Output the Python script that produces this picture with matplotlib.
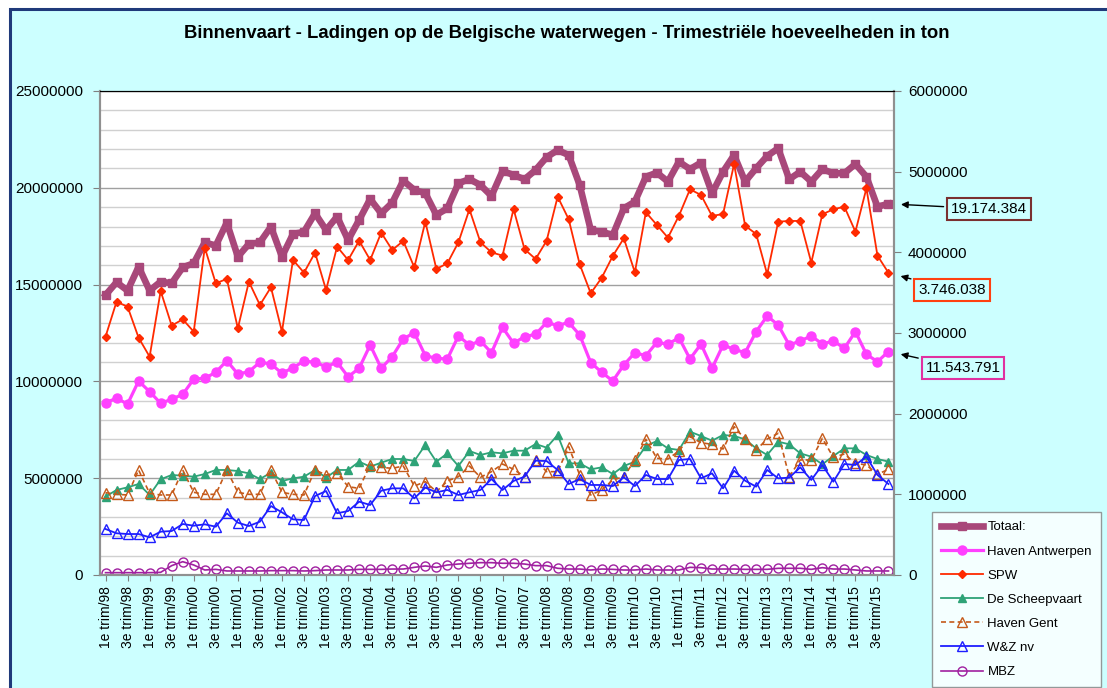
import numpy as np
import matplotlib.pyplot as plt
from matplotlib.patches import Rectangle

# quarters 1998 Q1 .. 2015 Q4
years = list(range(1998, 2016))
quarters = [f"{q}e trim/{y % 100:02d}" for y in years for q in (1, 2, 3, 4)]

# left axis (ton, millions)
totaal = [14.46, 15.12, 14.69, 15.92, 14.69, 15.15, 15.07, 15.89, 16.10, 17.18,
          17.01, 18.20, 16.44, 17.10, 17.18, 17.99, 16.44, 17.61, 17.73, 18.68,
          17.82, 18.51, 17.30, 18.34, 19.42, 18.68, 19.23, 20.37, 19.89, 19.72,
          18.60, 18.94, 20.23, 20.45, 20.14, 19.58, 20.87, 20.66, 20.44, 20.92,
          21.58, 21.95, 21.69, 20.14, 17.82, 17.73, 17.56, 18.94, 19.28, 20.57,
          20.78, 20.32, 21.35, 20.96, 21.30, 19.72, 20.83, 21.69, 20.32, 21.01,
          21.64, 22.04, 20.44, 20.83, 20.32, 20.96, 20.75, 20.75, 21.23, 20.57,
          19.02, 19.174384]
antwerpen = [8.90, 9.13, 8.83, 10.02, 9.47, 8.87, 9.08, 9.33, 10.12, 10.16,
             10.47, 11.07, 10.38, 10.50, 10.99, 10.90, 10.42, 10.71, 11.05, 10.99,
             10.76, 10.99, 10.24, 10.68, 11.88, 10.68, 11.28, 12.19, 12.52, 11.33,
             11.19, 11.16, 12.35, 11.88, 12.09, 11.48, 12.79, 11.97, 12.31, 12.43,
             13.05, 12.88, 13.05, 12.40, 10.97, 10.47, 10.02, 10.85, 11.48, 11.33,
             12.02, 11.92, 12.26, 11.16, 11.93, 10.68, 11.88, 11.66, 11.48, 12.57,
             13.38, 12.91, 11.88, 12.09, 12.35, 11.93, 12.09, 11.71, 12.57, 11.40,
             11.02, 11.543791]

# right axis (ton, millions)
spw = [2.954, 3.388, 3.326, 2.942, 2.706, 3.521, 3.091, 3.170, 3.016, 4.058,
       3.616, 3.670, 3.058, 3.636, 3.347, 3.567, 3.016, 3.905, 3.748, 3.996,
       3.533, 4.070, 3.905, 4.144, 3.905, 4.244, 4.029, 4.141, 3.814, 4.380,
       3.794, 3.864, 4.124, 4.533, 4.124, 4.000, 3.959, 4.537, 4.038, 3.917,
       4.144, 4.690, 4.410, 3.851, 3.492, 3.686, 3.955, 4.174, 3.752, 4.496,
       4.339, 4.182, 4.454, 4.781, 4.711, 4.451, 4.475, 5.095, 4.330, 4.227,
       3.728, 4.380, 4.389, 4.389, 3.872, 4.472, 4.533, 4.566, 4.256, 4.794,
       3.959, 3.746038]
scheepvaart = [0.971, 1.054, 1.087, 1.128, 0.992, 1.186, 1.240, 1.231, 1.219, 1.252,
               1.302, 1.302, 1.289, 1.260, 1.190, 1.268, 1.165, 1.198, 1.219, 1.302,
               1.207, 1.302, 1.302, 1.405, 1.343, 1.393, 1.438, 1.438, 1.413, 1.612,
               1.405, 1.508, 1.351, 1.537, 1.488, 1.521, 1.508, 1.541, 1.541, 1.624,
               1.579, 1.736, 1.384, 1.384, 1.310, 1.335, 1.252, 1.351, 1.405, 1.599,
               1.661, 1.570, 1.550, 1.777, 1.723, 1.665, 1.736, 1.723, 1.682, 1.570,
               1.488, 1.653, 1.620, 1.508, 1.467, 1.372, 1.475, 1.570, 1.570, 1.488,
               1.438, 1.405]
gent = [1.021, 1.000, 0.992, 1.302, 1.012, 0.992, 0.992, 1.302, 1.025, 1.000,
        1.000, 1.302, 1.025, 1.000, 1.000, 1.302, 1.025, 1.000, 0.992, 1.302,
        1.240, 1.268, 1.095, 1.074, 1.364, 1.335, 1.322, 1.351, 1.103, 1.157,
        1.033, 1.165, 1.219, 1.351, 1.211, 1.281, 1.376, 1.310, 1.219, 1.426,
        1.281, 1.281, 1.591, 1.240, 0.992, 1.054, 1.178, 1.219, 1.426, 1.682,
        1.446, 1.438, 1.537, 1.715, 1.640, 1.620, 1.562, 1.839, 1.682, 1.550,
        1.686, 1.756, 1.219, 1.426, 1.426, 1.694, 1.459, 1.500, 1.384, 1.364,
        1.248, 1.310]
wz = [0.570, 0.517, 0.508, 0.508, 0.467, 0.537, 0.545, 0.632, 0.611, 0.628,
      0.599, 0.765, 0.649, 0.607, 0.661, 0.855, 0.777, 0.690, 0.682, 0.979,
      1.041, 0.765, 0.793, 0.909, 0.868, 1.045, 1.074, 1.074, 0.950, 1.083,
      1.025, 1.054, 0.992, 1.025, 1.054, 1.190, 1.054, 1.165, 1.219, 1.417,
      1.413, 1.302, 1.128, 1.190, 1.116, 1.116, 1.103, 1.211, 1.103, 1.240,
      1.190, 1.190, 1.426, 1.438, 1.198, 1.260, 1.074, 1.293, 1.169, 1.095,
      1.302, 1.198, 1.207, 1.335, 1.178, 1.364, 1.157, 1.376, 1.364, 1.467,
      1.240, 1.128]
mbz = [0.029, 0.029, 0.029, 0.029, 0.029, 0.033, 0.116, 0.165, 0.124, 0.062,
       0.070, 0.050, 0.050, 0.050, 0.050, 0.054, 0.054, 0.054, 0.050, 0.054,
       0.062, 0.062, 0.062, 0.070, 0.070, 0.070, 0.074, 0.074, 0.095, 0.112,
       0.095, 0.124, 0.136, 0.145, 0.153, 0.153, 0.145, 0.145, 0.136, 0.116,
       0.116, 0.083, 0.074, 0.074, 0.062, 0.074, 0.070, 0.062, 0.062, 0.074,
       0.062, 0.062, 0.062, 0.095, 0.091, 0.074, 0.074, 0.074, 0.070, 0.070,
       0.070, 0.083, 0.083, 0.083, 0.070, 0.091, 0.074, 0.074, 0.062, 0.050,
       0.050, 0.050]

M = 1e6
W, H = 1107, 688
plt.rcParams['font.family'] = ['Liberation Sans', 'DejaVu Sans']

fig = plt.figure(figsize=(W / 100, H / 100), dpi=100)
fig.patch.set_facecolor('white')
fig.patches.append(Rectangle((9.5 / W, -0.1), 1.2, 1.1 - 9.5 / H,
                             transform=fig.transFigure, facecolor='#CCFFFF',
                             edgecolor='#1F3A7A', lw=2.2, zorder=-10))

ax1 = fig.add_axes([100 / W, (H - 575) / H, 794 / W, 484 / H])
ax2 = ax1.twinx()
x = np.arange(len(quarters))

l_tot, = ax1.plot(x, np.array(totaal) * M, color='#A8487A', lw=4.8,
                  marker='s', ms=5.5, label='Totaal:')
l_ant, = ax1.plot(x, np.array(antwerpen) * M, color='#FF40FF', lw=2.3,
                  marker='o', ms=6.5, label='Haven Antwerpen')
l_spw, = ax2.plot(x, np.array(spw) * M, color='#FF2A00', lw=1.3,
                  marker='D', ms=4.5, label='SPW')
l_sch, = ax2.plot(x, np.array(scheepvaart) * M, color='#2EA377', lw=1.3,
                  marker='^', ms=6, label='De Scheepvaart')
l_gen, = ax2.plot(x, np.array(gent) * M, color='#C55A1A', lw=1.2, ls=(0, (3, 2)),
                  marker='^', ms=7, mfc='none', mew=1, label='Haven Gent')
l_wz, = ax2.plot(x, np.array(wz) * M, color='#1E1EFF', lw=1.3,
                 marker='^', ms=7, mfc='none', mew=1, label='W&Z nv')
l_mbz, = ax2.plot(x, np.array(mbz) * M, color='#A020A0', lw=1.2,
                  marker='o', ms=6.5, mfc='none', mew=1, label='MBZ')

ax1.set_xlim(-0.5, len(quarters) - 0.5)
ax1.set_ylim(0, 25 * M)
ax2.set_ylim(0, 6 * M)
ax1.set_yticks(np.arange(0, 25.1, 5) * M)
ax1.set_yticks(np.arange(0, 25.1, 1) * M, minor=True)
ax2.set_yticks(np.arange(0, 6.1, 1) * M)
ax1.yaxis.set_major_formatter(lambda v, p: f"{int(v)}")
ax2.yaxis.set_major_formatter(lambda v, p: f"{int(v)}")
ax1.grid(axis='y', which='minor', color='#D0D0D0', lw=1)
ax1.grid(axis='y', which='major', color='#A0A0A0', lw=1)
ax1.set_axisbelow(True)
ax1.tick_params(axis='y', which='minor', length=0)
ax1.tick_params(axis='y', which='major', labelsize=11, length=5, pad=7, color='#808080')
ax2.tick_params(axis='y', labelsize=11, length=5, pad=5, color='#808080')

ax1.set_xticks(x[::2])
ax1.set_xticklabels(quarters[::2], rotation=90, fontsize=10)
ax1.tick_params(axis='x', length=4, pad=4, color='#808080')

for ax in (ax1, ax2):
    for s in ('left', 'right', 'bottom'):
        ax.spines[s].set_color('#909090')
        ax.spines[s].set_linewidth(1.5)
    ax.spines['top'].set_color('black')
ax2.patch.set_visible(False)

fig.text(567 / W, 1 - 34 / H,
         'Binnenvaart - Ladingen op de Belgische waterwegen - Trimestriële hoeveelheden in ton',
         ha='center', va='center', fontsize=13.3, fontweight='bold')

arrow = dict(arrowstyle='-|>', color='black', lw=1, mutation_scale=10, shrinkB=9)
ax1.annotate('19.174.384', xy=(x[-1], totaal[-1] * M), xytext=(989, H - 209),
             textcoords='figure pixels', ha='center', va='center', fontsize=11,
             bbox=dict(boxstyle='square,pad=0.25', fc='#CCFFFF', ec='#7A3030', lw=1.5),
             arrowprops=arrow, annotation_clip=False)
ax2.annotate('3.746.038', xy=(x[-1], spw[-1] * M), xytext=(952, H - 290),
             textcoords='figure pixels', ha='center', va='center', fontsize=11,
             bbox=dict(boxstyle='square,pad=0.25', fc='#CCFFFF', ec='#FF4010', lw=1.5),
             arrowprops=arrow, annotation_clip=False)
ax1.annotate('11.543.791', xy=(x[-1], antwerpen[-1] * M), xytext=(963, H - 368),
             textcoords='figure pixels', ha='center', va='center', fontsize=11,
             bbox=dict(boxstyle='square,pad=0.25', fc='#CCFFFF', ec='#E030A0', lw=1.5),
             arrowprops=arrow, annotation_clip=False)

leg = fig.legend(handles=[l_tot, l_ant, l_spw, l_sch, l_gen, l_wz, l_mbz],
                 loc='upper left', bbox_to_anchor=(932 / W, 1 - 512 / H),
                 fontsize=9.5, frameon=True, fancybox=False, handlelength=3.2,
                 labelspacing=0.9, borderpad=0.7, handletextpad=0.3,
                 borderaxespad=0)
leg.get_frame().set_edgecolor('#808080')
leg.get_frame().set_facecolor('white')
leg.get_frame().set_linewidth(1)

fig.savefig('out.png', dpi=100, facecolor=fig.get_facecolor())
